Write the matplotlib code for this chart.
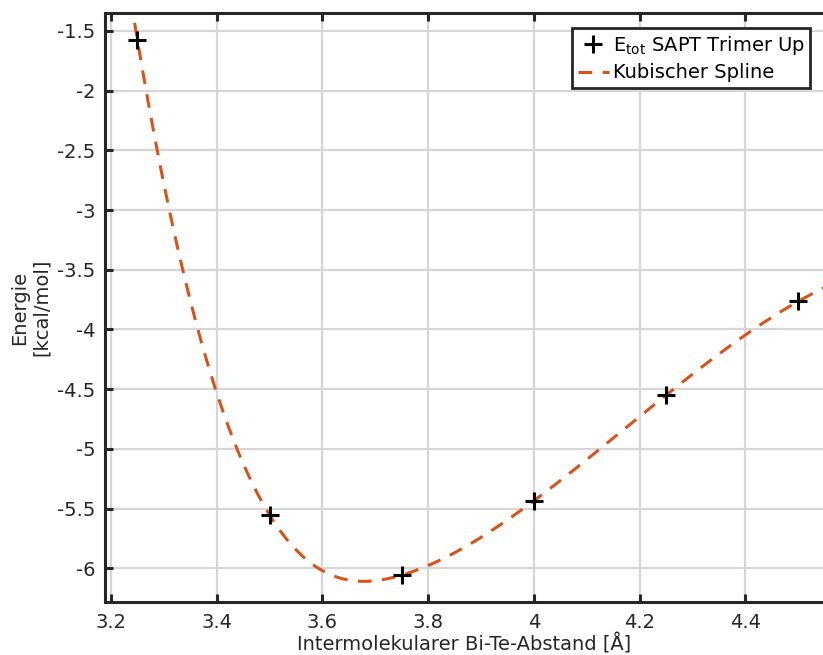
import numpy as np
import matplotlib
matplotlib.use("Agg")
import matplotlib.pyplot as plt

# Interaction energies (kcal/mol) vs. Bi-Te distance (Å)
distance = [3.25, 3.50, 3.75, 4.00, 4.25, 4.50]
energy = [-1.578, -5.552, -6.056, -5.434, -4.55, -3.765]

x_ticks = [3.2, 3.4, 3.6, 3.8, 4.0, 4.2, 4.4]
x_tick_labels = ["3.2", "3.4", "3.6", "3.8", "4", "4.2", "4.4"]
y_ticks = [-6, -5.5, -5, -4.5, -4, -3.5, -3, -2.5, -2, -1.5]
y_tick_labels = ["-6", "-5.5", "-5", "-4.5", "-4", "-3.5", "-3", "-2.5", "-2", "-1.5"]


def not_a_knot_spline(x, y):
    """Cubic spline with not-a-knot end conditions; returns an evaluator."""
    x = np.asarray(x, float)
    y = np.asarray(y, float)
    n = len(x)
    h = np.diff(x)
    A = np.zeros((n, n))
    b = np.zeros(n)
    # interior: continuity of second derivative (unknowns are second derivatives M)
    for i in range(1, n - 1):
        A[i, i - 1] = h[i - 1]
        A[i, i] = 2 * (h[i - 1] + h[i])
        A[i, i + 1] = h[i]
        b[i] = 6 * ((y[i + 1] - y[i]) / h[i] - (y[i] - y[i - 1]) / h[i - 1])
    # not-a-knot: third derivative continuous at x1 and x_{n-2}
    A[0, 0] = h[1]
    A[0, 1] = -(h[0] + h[1])
    A[0, 2] = h[0]
    A[-1, -3] = h[-1]
    A[-1, -2] = -(h[-2] + h[-1])
    A[-1, -1] = h[-2]
    M = np.linalg.solve(A, b)

    def evaluate(t):
        t = np.asarray(t, float)
        i = np.clip(np.searchsorted(x, t) - 1, 0, n - 2)
        hi = h[i]
        a = x[i + 1] - t
        c = t - x[i]
        return (M[i] * a**3 / (6 * hi) + M[i + 1] * c**3 / (6 * hi)
                + (y[i] / hi - M[i] * hi / 6) * a
                + (y[i + 1] / hi - M[i + 1] * hi / 6) * c)

    return evaluate


spline = not_a_knot_spline(distance, energy)
xs = np.linspace(3.18, 4.56, 600)
ys = spline(xs)

dark = "#262626"
fs = 14
plt.rcParams["font.family"] = ["DejaVu Sans"]
plt.rcParams["mathtext.fontset"] = "dejavusans"

fig = plt.figure(figsize=(8.23, 6.55), dpi=100)
ax = fig.add_axes([105 / 823, 53 / 655, 1 - 105 / 823, 589 / 655])

ax.plot(distance, energy, linestyle="none", marker="+", color="black",
        markersize=13, markeredgewidth=2.2,
        label=r"E$_{\mathrm{tot}}$ SAPT Trimer Up", zorder=3)
ax.plot(xs, ys, linestyle=(0, (4.5, 3.4)), color="#D95319", linewidth=2.2,
        label="Kubischer Spline", zorder=2)

ax.set_xlim(3.1887, 4.547)
ax.set_ylim(-6.281, -1.351)
ax.set_xticks(x_ticks)
ax.set_xticklabels(x_tick_labels)
ax.set_yticks(y_ticks)
ax.set_yticklabels(y_tick_labels)

ax.grid(True, color="#d6d6d6", linewidth=1.6)
ax.set_axisbelow(True)

for side in ("left", "bottom", "top"):
    ax.spines[side].set_color(dark)
    ax.spines[side].set_linewidth(2.2)
ax.spines["right"].set_visible(False)

ax.tick_params(direction="in", length=6, width=2.2, color=dark,
               labelcolor=dark, labelsize=fs, top=True, right=False)
ax.tick_params(axis="x", pad=8)
ax.tick_params(axis="y", pad=7)

ax.set_xlabel("Intermolekularer Bi-Te-Abstand [Å]", fontsize=fs, color=dark, labelpad=1)
ax.set_ylabel("Energie\n[kcal/mol]", fontsize=fs, color=dark, labelpad=4)

leg = ax.legend(loc="upper right", bbox_to_anchor=(0.9825, 0.975), fontsize=fs,
                frameon=True, fancybox=False, handlelength=1.6, handletextpad=0.2,
                borderpad=0.3, labelspacing=0.35, borderaxespad=0.0)
leg.get_frame().set_edgecolor(dark)
leg.get_frame().set_linewidth(2.0)
leg.get_frame().set_alpha(1.0)

fig.savefig("out.png", dpi=100)
